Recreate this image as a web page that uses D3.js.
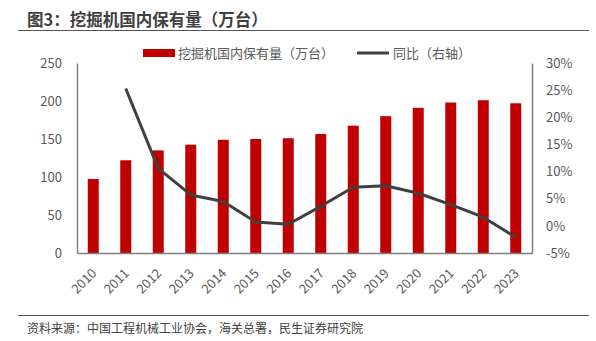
<!DOCTYPE html>
<html>
<head>
<meta charset="utf-8">
<title>挖掘机国内保有量</title>
<script src="https://d3js.org/d3.v7.min.js"></script>
<style>
  body { margin: 0; background: #fff; }
  svg text { font-family: "Noto Sans CJK SC", "Noto Sans", sans-serif; }
</style>
</head>
<body>
<div id="chart"></div>
<script>
const years = ["2010","2011","2012","2013","2014","2015","2016","2017","2018","2019","2020","2021","2022","2023"];
// stock in 10k units (left axis)
const stock = [97.4, 122, 135, 142.5, 149, 150, 151, 156.6, 167.5, 180, 191, 198, 201, 197];
// yoy growth in % (right axis), none for first year
const yoy = [null, 25.3, 10.6, 5.7, 4.5, 0.7, 0.3, 3.6, 7.1, 7.4, 6.0, 3.9, 1.6, -2.1];
const leftTicks = [0, 50, 100, 150, 200, 250];
const rightTicks = [-5, 0, 5, 10, 15, 20, 25, 30];

const W = 596, H = 341;
const margin = { top: 63, right: 64, bottom: 88, left: 77 };
const width = W - margin.left - margin.right,
  height = H - margin.top - margin.bottom;

const svg = d3.select("#chart").append("svg")
  .attr("width", W).attr("height", H);

// title + rules
svg.append("text").attr("x", 27).attr("y", 26)
  .attr("font-size", 16.5).attr("font-weight", "bold").attr("fill", "#404040")
  .text("图3：挖掘机国内保有量（万台）");
svg.append("line").attr("x1", 18).attr("x2", 589).attr("y1", 30.5).attr("y2", 30.5)
  .attr("stroke", "#555").attr("stroke-width", 1.2);
svg.append("line").attr("x1", 18).attr("x2", 589).attr("y1", 315.5).attr("y2", 315.5)
  .attr("stroke", "#555").attr("stroke-width", 1.2);
svg.append("text").attr("x", 27).attr("y", 333)
  .attr("font-size", 12).attr("fill", "#404040")
  .text("资料来源：中国工程机械工业协会，海关总署，民生证券研究院");

const g = svg.append("g").attr("transform", `translate(${margin.left},${margin.top})`);

const x = d3.scaleBand().domain(years).range([0, width]).padding(0);
const y = d3.scaleLinear().domain([0, 250]).range([height, 0]);
const y2 = d3.scaleLinear().domain([-5, 30]).range([height, 0]);

// bars
const barW = 11;
g.selectAll("rect.bar").data(years).join("rect")
  .attr("class", "bar")
  .attr("x", d => x(d) + x.bandwidth() / 2 - barW / 2)
  .attr("width", barW)
  .attr("y", (d, i) => y(stock[i]))
  .attr("height", (d, i) => height - y(stock[i]))
  .attr("fill", "#c00000");

// yoy line
const line = d3.line()
  .defined(d => d.v != null)
  .x(d => x(d.year) + x.bandwidth() / 2)
  .y(d => y2(d.v));
g.append("path")
  .datum(years.map((year, i) => ({ year, v: yoy[i] })))
  .attr("fill", "none").attr("stroke", "#404040").attr("stroke-width", 3)
  .attr("stroke-linejoin", "round")
  .attr("d", line);

// axes
const axisColor = "#7f7f7f", labelColor = "#595959";
const left = g.append("g")
  .call(d3.axisLeft(y).tickValues(leftTicks).tickSize(0).tickPadding(15));
const right = g.append("g").attr("transform", `translate(${width},0)`)
  .call(d3.axisRight(y2).tickValues(rightTicks).tickSize(0).tickPadding(14)
    .tickFormat(d => d + "%"));
const bottom = g.append("g").attr("transform", `translate(0,${height})`)
  .call(d3.axisBottom(x).tickSize(0));

[left, right, bottom].forEach(a => {
  a.select(".domain").attr("stroke", axisColor).attr("stroke-width", 1.5);
  a.selectAll("text").attr("fill", labelColor).attr("font-size", 13)
    .attr("font-family", "Noto Sans, sans-serif");
});
bottom.selectAll("text")
  .attr("text-anchor", "end")
  .attr("dy", 0)
  .attr("transform", "translate(2,19) rotate(-45)");

// legend
const lg = svg.append("g");
lg.append("rect").attr("x", 143).attr("y", 49).attr("width", 32).attr("height", 8)
  .attr("fill", "#c00000");
lg.append("text").attr("x", 178).attr("y", 58).attr("font-size", 13).attr("fill", labelColor)
  .text("挖掘机国内保有量（万台）");
lg.append("line").attr("x1", 357).attr("x2", 389).attr("y1", 53).attr("y2", 53)
  .attr("stroke", "#404040").attr("stroke-width", 3);
lg.append("text").attr("x", 393).attr("y", 58).attr("font-size", 13).attr("fill", labelColor)
  .text("同比（右轴）");
</script>
</body>
</html>
